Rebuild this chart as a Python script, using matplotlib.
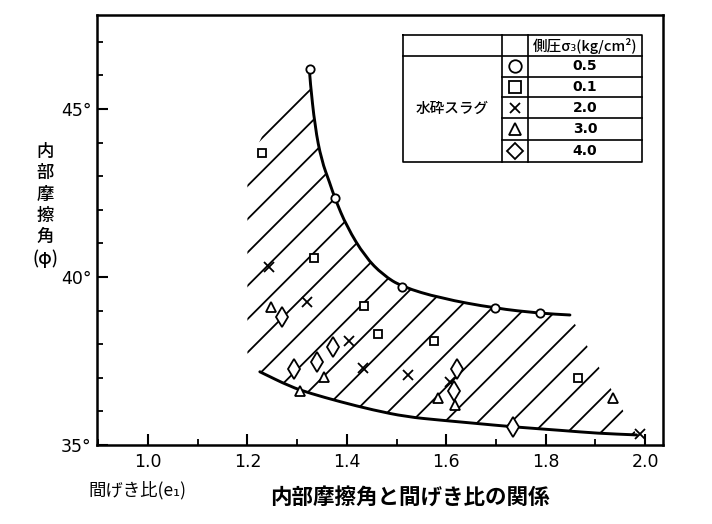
import matplotlib
matplotlib.use('Agg')
import matplotlib.pyplot as plt
from matplotlib.patches import Polygon, PathPatch
from matplotlib.path import Path
from matplotlib.ticker import MultipleLocator, FixedLocator

plt.rcParams['font.family'] = ['Noto Sans CJK JP', 'DejaVu Sans']
plt.rcParams['hatch.linewidth'] = 1.3

# ---------------- data (void ratio e, internal friction angle phi) ----------------
circ_e = [1.325, 1.376, 1.511, 1.698, 1.789]
circ_phi = [46.18, 42.34, 39.71, 39.07, 38.92]

sq_e = [1.229, 1.335, 1.435, 1.462, 1.575, 1.866]
sq_phi = [43.68, 40.56, 39.14, 38.29, 38.10, 37.00]

x_e = [1.243, 1.319, 1.405, 1.432, 1.524, 1.608, 1.990]
x_phi = [40.31, 39.25, 38.10, 37.28, 37.08, 36.88, 35.33]

tri_e = [1.247, 1.355, 1.306, 1.584, 1.618, 1.936]
tri_phi = [39.12, 37.03, 36.62, 36.39, 36.19, 36.39]

dia_e = [1.269, 1.294, 1.341, 1.372, 1.621, 1.616, 1.734]
dia_phi = [38.82, 37.25, 37.48, 37.93, 37.25, 36.61, 35.54]

upper_e = [1.325, 1.326, 1.336, 1.349, 1.366, 1.376, 1.400, 1.437, 1.473,
           1.511, 1.588, 1.698, 1.789, 1.849]
upper_phi = [46.18, 45.86, 44.47, 43.48, 42.79, 42.34, 41.50, 40.60, 40.06,
             39.71, 39.37, 39.07, 38.92, 38.87]

lower_e = [1.225, 1.286, 1.326, 1.386, 1.453, 1.520, 1.588, 1.655, 1.734,
           1.836, 1.903, 1.983]
lower_phi = [37.18, 36.74, 36.54, 36.29, 36.04, 35.84, 35.74, 35.65, 35.54,
             35.43, 35.35, 35.30]

# left edge of the hatched band (bottom to top) and its upper-left corner
left_e = [1.200, 1.200, 1.241, 1.328]
left_phi = [37.73, 43.27, 44.55, 45.63]

legend_pressure = ['0.5', '0.1', '2.0', '3.0', '4.0']
legend_markers = ['o', 's', 'x', '^', 'D']
material = '水砕スラグ'
table_header = '側圧σ₃(kg/cm²)'

x_ticks = [1.0, 1.2, 1.4, 1.6, 1.8, 2.0]
x_ticklabels = ['1.0', '1.2', '1.4', '1.6', '1.8', '2.0']
y_ticks = [35, 40, 45]
y_ticklabels = ['35°', '40°', '45°']

ylabel_chars = ['内', '部', '摩', '擦', '角', '(φ)']
xlabel = '間げき比(e₁)'
title = '内部摩擦角と間げき比の関係'

# ---------------- figure ----------------
W, H = 712, 524
fig = plt.figure(figsize=(W / 100, H / 100), dpi=100)
ax = fig.add_axes([97 / W, 1 - 445 / H, 566 / W, 430 / H])
ax.set_xlim(0.8974, 2.0362)
ax.set_ylim(35, 47.8)

for s in ax.spines.values():
    s.set_linewidth(1.8)

# hatched band
ring = [(left_e[1], left_phi[1]), (left_e[0], left_phi[0])]
ring += list(zip(lower_e, lower_phi))
ring += list(zip(upper_e[::-1], upper_phi[::-1]))[:-2]
ring += [(left_e[3], left_phi[3]), (left_e[2], left_phi[2])]
ax.add_patch(Polygon(ring, closed=True, facecolor='none', edgecolor='black',
                     linewidth=0, hatch='/', zorder=1))


def smooth_path(xs, ys):
    pts = list(zip(xs, ys))
    verts = [pts[0]]
    codes = [Path.MOVETO]
    mid = lambda a, b: ((a[0] + b[0]) / 2, (a[1] + b[1]) / 2)
    verts.append(mid(pts[0], pts[1]))
    codes.append(Path.LINETO)
    for i in range(1, len(pts) - 1):
        verts += [pts[i], mid(pts[i], pts[i + 1])]
        codes += [Path.CURVE3, Path.CURVE3]
    verts.append(pts[-1])
    codes.append(Path.LINETO)
    return Path(verts, codes)


for xs, ys in ((upper_e, upper_phi), (lower_e, lower_phi)):
    ax.add_patch(PathPatch(smooth_path(xs, ys), facecolor='none', edgecolor='black',
                           lw=2.1, zorder=2, capstyle='round'))

mk = dict(linestyle='none', mfc='white', mec='black', mew=1.3, zorder=4)
ax.plot(circ_e, circ_phi, marker='o', ms=6, **mk)
ax.plot(sq_e, sq_phi, marker='s', ms=5.5, **mk)
ax.plot(x_e, x_phi, marker='x', ms=7, linestyle='none', color='black', mew=1.3, zorder=4)
ax.plot(tri_e, tri_phi, marker='^', ms=6.5, **mk)
ax.plot(dia_e, dia_phi, marker='d', ms=10, **mk)

# ticks
ax.xaxis.set_major_locator(FixedLocator(x_ticks))
ax.xaxis.set_minor_locator(MultipleLocator(0.1))
ax.yaxis.set_major_locator(FixedLocator(y_ticks))
ax.yaxis.set_minor_locator(MultipleLocator(1))
ax.set_xticklabels(x_ticklabels, family='DejaVu Sans', fontsize=12.5)
ax.set_yticklabels(y_ticklabels, family='DejaVu Sans', fontsize=12.5)
ax.tick_params(axis='both', which='major', direction='in', length=8, width=1.5)
ax.tick_params(axis='both', which='minor', direction='in', length=4.5, width=1.3)
ax.tick_params(axis='x', which='major', pad=6)
ax.tick_params(axis='y', which='major', pad=4)

# y label (stacked)
for i, ch in enumerate(ylabel_chars):
    fig.text(45 / W, 1 - (152 + i * 21.3) / H, ch, ha='center', va='center',
             fontsize=12.5, fontweight='medium')

fig.text(88 / W, 1 - 490 / H, xlabel, ha='left', va='center', fontsize=12.5)
fig.text(410 / W, 1 - 497 / H, title, ha='center', va='center', fontsize=15.5,
         fontweight='bold')

# ---------------- table legend ----------------
def ax_x(px):
    return (px - 97) / 566


def ax_y(py):
    return (445 - py) / 430


tl, tc1, tc2, tr = 403, 501.7, 528.3, 641.7
row_y = [35, 56, 76.7, 97.2, 118.3, 140, 161.7]
lkw = dict(color='black', lw=1.2, transform=ax.transAxes, clip_on=False, zorder=5)
ax.plot([ax_x(tl), ax_x(tr), ax_x(tr), ax_x(tl), ax_x(tl)],
        [ax_y(row_y[0]), ax_y(row_y[0]), ax_y(row_y[-1]), ax_y(row_y[-1]), ax_y(row_y[0])], **lkw)
ax.plot([ax_x(tl), ax_x(tr)], [ax_y(row_y[1])] * 2, **lkw)
for y in row_y[2:-1]:
    ax.plot([ax_x(tc1), ax_x(tr)], [ax_y(y)] * 2, **lkw)
for x in (tc1, tc2):
    ax.plot([ax_x(x)] * 2, [ax_y(row_y[0]), ax_y(row_y[-1])], **lkw)

ax.text(ax_x((tc2 + tr) / 2), ax_y((row_y[0] + row_y[1]) / 2), table_header,
        transform=ax.transAxes, ha='center', va='center', fontsize=10.5,
        fontweight='medium', zorder=6)
ax.text(ax_x((tl + tc1) / 2), ax_y((row_y[1] + row_y[-1]) / 2), material,
        transform=ax.transAxes, ha='center', va='center', fontsize=10.5,
        fontweight='medium', zorder=6)
for i, (lab, m) in enumerate(zip(legend_pressure, legend_markers)):
    yc = ax_y((row_y[i + 1] + row_y[i + 2]) / 2)
    ax.text(ax_x((tc2 + tr) / 2), yc, lab, transform=ax.transAxes, ha='center',
            va='center', fontsize=10, family='DejaVu Sans', fontweight='bold', zorder=6)
    if m == 'x':
        ax.plot([ax_x((tc1 + tc2) / 2)], [yc], marker='x', ms=7, color='black', mew=1.3,
                transform=ax.transAxes, clip_on=False, zorder=6)
    else:
        ax.plot([ax_x((tc1 + tc2) / 2)], [yc], marker=m, ms=9 if m != 'D' else 8,
                mfc='white', mec='black', mew=1.3, transform=ax.transAxes,
                clip_on=False, zorder=6, linestyle='none')

fig.savefig('out.png', dpi=100)
